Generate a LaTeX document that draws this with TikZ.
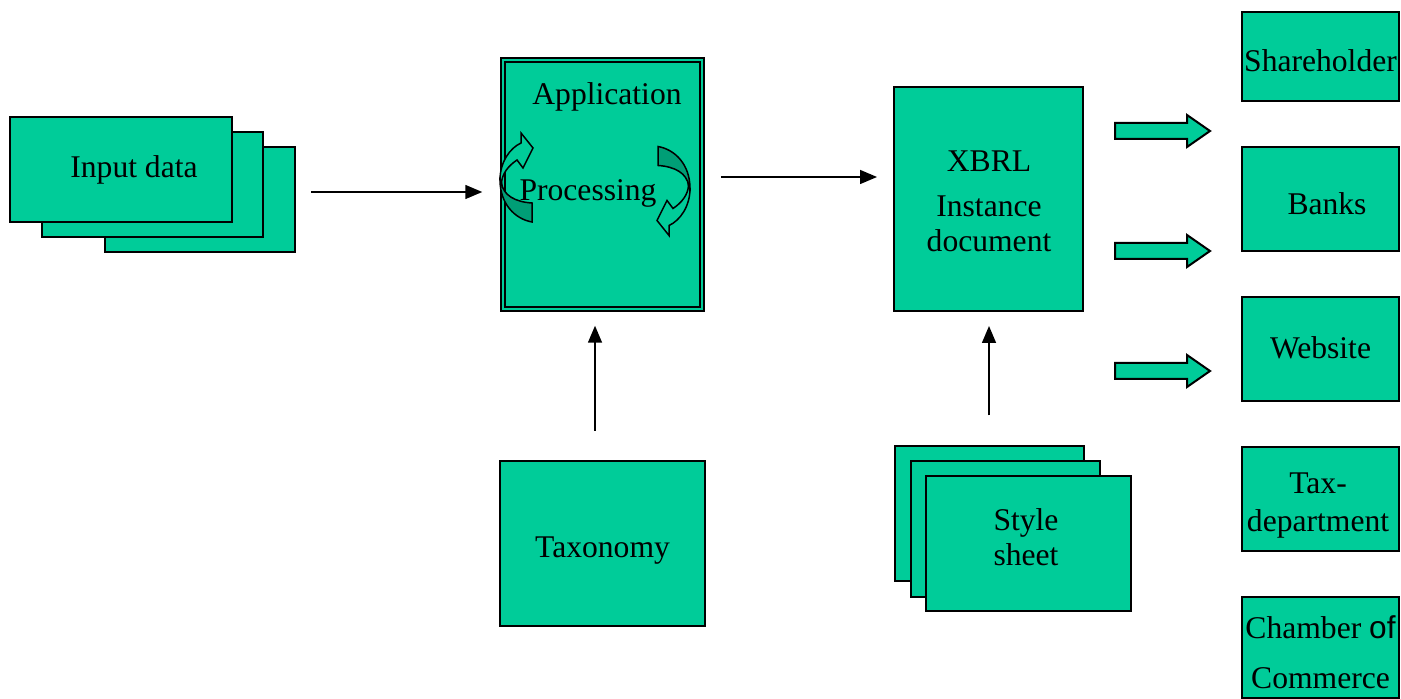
\documentclass[tikz,border=0pt]{standalone}
\usepackage{fontspec}
\setmainfont{Liberation Serif}
\newfontfamily\ofsans{Liberation Sans}
\usetikzlibrary{arrows.meta}
\definecolor{boxgreen}{RGB}{0,204,153}
\definecolor{shadegreen}{RGB}{0,158,118}
\tikzset{
	box/.style={draw, line width=1pt, fill=boxgreen, inner sep=0pt},
	txt/.style={inner sep=0pt, align=center, font=\fontsize{15.8}{17.5}\selectfont},
	arr/.style={line width=0.75pt, -{Triangle[length=8.5pt,width=7pt]}},
	blockarr/.style={draw, line width=1pt, fill=boxgreen, line join=miter},
}
% one turning arrow of the processing box
\newcommand{\turnarrow}{%
	\draw[line width=0.75pt, fill=shadegreen] (500,180) .. controls (500,204) and (515,219) .. (532,222) -- (532,203) .. controls (515,202) and (503,195) .. (501.5,183) -- cycle;
	\draw[line width=0.75pt, fill=boxgreen, line join=miter] (500,180) .. controls (500,162) and (510,148) .. (521,143) -- (521,133) -- (533,148) -- (523,168) -- (517,160) .. controls (508,166) and (502,174) .. (501.5,183) -- cycle;
}

\begin{document}
\begin{tikzpicture}[x=0.5pt, y=-0.5pt]
			%%%%% START %%%%%
			\useasboundingbox (0,0) rectangle (1401,699);
			
			% input data stack
			\node[box, minimum width=95pt, minimum height=52.5pt] (inback) at (200,199.5) {};
			\node[box, minimum width=110.5pt, minimum height=52.5pt] (inmid) at (152.5,184.5) {};
			\node[box, minimum width=111pt, minimum height=52.5pt] (infront) at (121,169.5) {};
			\node[txt] (inlabel) at (134,169.5) {Input data};
			
			% application
			\node[box, double=boxgreen, line width=0.75pt, double distance=1.25pt, minimum width=99.5pt, minimum height=124.5pt] (app) at (602.5,184.5) {};
			\turnarrow
			\begin{scope}[shift={(1190,368.5)}, rotate=180]
				\turnarrow
			\end{scope}
			\node[txt] (applabel) at (607,96.5) {Application};
			\node[txt] (proclabel) at (588,193) {Processing};
			
			\node[box, minimum width=102.5pt, minimum height=82.5pt] (tax) at (602.5,543.5) {};
			\node[txt] (taxlabel) at (602.5,550.5) {Taxonomy};
			
			% instance document
			\node[box, minimum width=94.5pt, minimum height=112pt] (xbrl) at (988.5,199) {};
			\node[txt] (xbrllabel) at (989,201) {XBRL\\[5pt]Instance\\document};
			
			% style sheet stack
			\node[box, minimum width=94.5pt, minimum height=67pt] (styleback) at (989,513.5) {};
			\node[box, minimum width=94.5pt, minimum height=67.5pt] (stylemid) at (1005,529) {};
			\node[box, minimum width=102.5pt, minimum height=67.5pt] (stylefront) at (1028.5,543.5) {};
			\node[txt] (stylelabel) at (1026,537.5) {Style\\sheet};
			
			% receivers
			\node[box, minimum width=78.5pt, minimum height=44.5pt] (share) at (1320.5,56.5) {};
			\node[box, minimum width=78.5pt, minimum height=52pt] (banks) at (1320.5,199) {};
			\node[box, minimum width=78.5pt, minimum height=52pt] (web) at (1320.5,349) {};
			\node[box, minimum width=78.5pt, minimum height=52pt] (taxdep) at (1320.5,499) {};
			\node[box, minimum width=78.5pt, minimum height=50.5pt] (chamber) at (1320.5,647.5) {};
			\node[txt] (sharelabel) at (1320.5,60.5) {Shareholder};
			\node[txt] (bankslabel) at (1327,204) {Banks};
			\node[txt] (weblabel) at (1320.5,348) {Website};
			\node[txt] (taxdeplabel) at (1318,506) {Tax-\\[1.5pt]department};
			\node[txt] (chamberlabel) at (1320.5,652.5) {Chamber {\ofsans of}\\[7.5pt]Commerce};
			
			% connectors
			\coordinate (inlevel) at (0,192);
			\coordinate (outlevel) at (0,177);
			\draw[arr, shorten <=7.5pt, shorten >=10pt] (inback.east |- inlevel) -- (app.west |- inlevel);
			\draw[arr, shorten <=9pt, shorten >=8pt] (app.east |- outlevel) -- (xbrl.west |- outlevel);
			\draw[arr, shorten <=14.5pt, shorten >=8pt] ([xshift=-3.75pt]tax.north) -- ([xshift=-3.75pt]app.south);
			\draw[arr, shorten <=15pt, shorten >=7pt] (styleback.north) -- (styleback.north |- xbrl.south);
			
			% block arrows
			\foreach \y in {131,251,371}
				\draw[blockarr] (1115,\y-8) -- (1187,\y-8) -- (1187,\y-16) -- (1210,\y) -- (1187,\y+16) -- (1187,\y+8) -- (1115,\y+8) -- cycle;
			
			%%%%% END %%%%%
\end{tikzpicture}
\end{document}
